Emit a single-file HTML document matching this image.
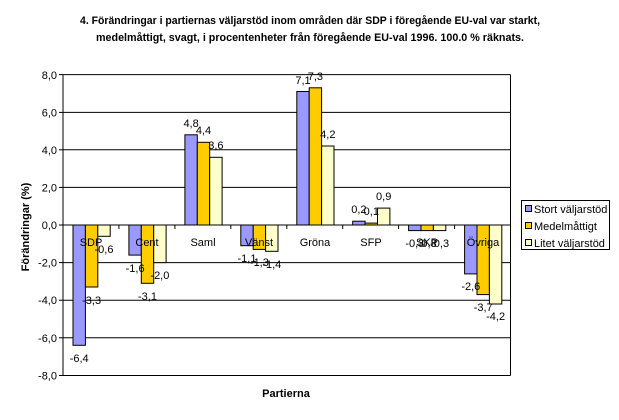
<!DOCTYPE html>
<html><head><meta charset="utf-8"><style>
html,body{margin:0;padding:0;background:#fff;}
svg{display:block;font-family:"Liberation Sans",Arial,sans-serif;}
</style></head><body>
<svg width="619" height="420" viewBox="0 0 619 420" xmlns="http://www.w3.org/2000/svg">
<rect width="619" height="420" fill="#fff"/>
<g font-weight="bold" font-size="11" text-anchor="middle">
<text x="310" y="24" textLength="460" lengthAdjust="spacingAndGlyphs">4. Förändringar i partiernas väljarstöd inom områden där SDP i föregående EU-val var starkt,</text>
<text x="310" y="41" textLength="428" lengthAdjust="spacingAndGlyphs">medelmåttigt, svagt, i procentenheter från föregående EU-val 1996. 100.0 % räknats.</text>
</g>
<g stroke="#000" stroke-width="1">
<line x1="63" y1="74.6" x2="510.5" y2="74.6"/>
<line x1="63" y1="112.4" x2="510.5" y2="112.4"/>
<line x1="63" y1="149.8" x2="510.5" y2="149.8"/>
<line x1="63" y1="187.4" x2="510.5" y2="187.4"/>
<line x1="63" y1="262.6" x2="510.5" y2="262.6"/>
<line x1="63" y1="300.2" x2="510.5" y2="300.2"/>
<line x1="63" y1="337.8" x2="510.5" y2="337.8"/>
<line x1="63" y1="375.5" x2="510.5" y2="375.5"/>
<line x1="63" y1="74.6" x2="63" y2="375.5"/>
<line x1="510.5" y1="74.6" x2="510.5" y2="375.5"/>
<line x1="59" y1="74.6" x2="63" y2="74.6"/><line x1="59" y1="112.4" x2="63" y2="112.4"/><line x1="59" y1="149.8" x2="63" y2="149.8"/><line x1="59" y1="187.4" x2="63" y2="187.4"/><line x1="59" y1="225" x2="63" y2="225"/><line x1="59" y1="262.6" x2="63" y2="262.6"/><line x1="59" y1="300.2" x2="63" y2="300.2"/><line x1="59" y1="337.8" x2="63" y2="337.8"/><line x1="59" y1="375.5" x2="63" y2="375.5"/>
</g>
<g stroke="#000" stroke-width="1">
<rect x="73" y="225" width="12.4" height="120.3" fill="#9999FF"/>
<rect x="85.4" y="225" width="12.4" height="62" fill="#FFCC00"/>
<rect x="97.8" y="225" width="12.4" height="11.3" fill="#FFFFCC"/>
<rect x="128.9" y="225" width="12.4" height="30.1" fill="#9999FF"/>
<rect x="141.3" y="225" width="12.4" height="58.3" fill="#FFCC00"/>
<rect x="153.7" y="225" width="12.4" height="37.6" fill="#FFFFCC"/>
<rect x="184.9" y="134.8" width="12.4" height="90.2" fill="#9999FF"/>
<rect x="197.3" y="142.3" width="12.4" height="82.7" fill="#FFCC00"/>
<rect x="209.7" y="157.3" width="12.4" height="67.7" fill="#FFFFCC"/>
<rect x="240.8" y="225" width="12.4" height="20.7" fill="#9999FF"/>
<rect x="253.2" y="225" width="12.4" height="24.4" fill="#FFCC00"/>
<rect x="265.6" y="225" width="12.4" height="26.3" fill="#FFFFCC"/>
<rect x="296.8" y="91.5" width="12.4" height="133.5" fill="#9999FF"/>
<rect x="309.2" y="87.8" width="12.4" height="137.2" fill="#FFCC00"/>
<rect x="321.6" y="146" width="12.4" height="79" fill="#FFFFCC"/>
<rect x="352.7" y="221.2" width="12.4" height="3.8" fill="#9999FF"/>
<rect x="365.1" y="223.1" width="12.4" height="1.9" fill="#FFCC00"/>
<rect x="377.5" y="208.1" width="12.4" height="16.9" fill="#FFFFCC"/>
<rect x="408.6" y="225" width="12.4" height="5.6" fill="#9999FF"/>
<rect x="421" y="225" width="12.4" height="5.6" fill="#FFCC00"/>
<rect x="433.4" y="225" width="12.4" height="5.6" fill="#FFFFCC"/>
<rect x="464.6" y="225" width="12.4" height="48.9" fill="#9999FF"/>
<rect x="477" y="225" width="12.4" height="69.6" fill="#FFCC00"/>
<rect x="489.4" y="225" width="12.4" height="79" fill="#FFFFCC"/>
</g>
<line x1="63" y1="225" x2="510.5" y2="225" stroke="#000"/>
<g stroke="#000">
<line x1="118.9" y1="225" x2="118.9" y2="229"/><line x1="174.9" y1="225" x2="174.9" y2="229"/><line x1="230.8" y1="225" x2="230.8" y2="229"/><line x1="286.8" y1="225" x2="286.8" y2="229"/><line x1="342.7" y1="225" x2="342.7" y2="229"/><line x1="398.6" y1="225" x2="398.6" y2="229"/><line x1="454.6" y1="225" x2="454.6" y2="229"/>
</g>
<g font-size="11" text-anchor="end">
<text x="57" y="79">8,0</text><text x="57" y="116.5">6,0</text><text x="57" y="154">4,0</text><text x="57" y="191.5">2,0</text><text x="57" y="229">0,0</text><text x="57" y="266.5">-2,0</text><text x="57" y="304">-4,0</text><text x="57" y="342">-6,0</text><text x="57" y="379.5">-8,0</text>
</g>
<g font-size="11" text-anchor="middle">
<text x="91" y="246">SDP</text><text x="147" y="246">Cent</text><text x="203" y="246">Saml</text><text x="259" y="246">Vänst</text><text x="315" y="246">Gröna</text><text x="371" y="246">SFP</text><text x="427" y="246">SKP</text><text x="483" y="246">Övriga</text>
</g>
<g font-size="11" text-anchor="middle">
<text x="79.2" y="362">-6,4</text><text x="91.6" y="304">-3,3</text><text x="104" y="253">-0,6</text>
<text x="135.1" y="272">-1,6</text><text x="147.5" y="300">-3,1</text><text x="159.9" y="279">-2,0</text>
<text x="191.1" y="127">4,8</text><text x="203.5" y="134">4,4</text><text x="215.9" y="149">3,6</text>
<text x="247" y="262">-1,1</text><text x="259.4" y="266">-1,3</text><text x="271.8" y="268">-1,4</text>
<text x="303" y="84">7,1</text><text x="315.4" y="80">7,3</text><text x="327.8" y="138">4,2</text>
<text x="358.9" y="213">0,2</text><text x="371.3" y="215">0,1</text><text x="383.7" y="200">0,9</text>
<text x="414.8" y="247">-0,3</text><text x="427.2" y="247">-0,3</text><text x="439.6" y="247">-0,3</text>
<text x="470.8" y="290">-2,6</text><text x="483.2" y="311">-3,7</text><text x="495.6" y="320">-4,2</text>
</g>
<text x="29" y="227" font-size="11" font-weight="bold" text-anchor="middle" transform="rotate(-90 29 227)">Förändringar (%)</text>
<text x="286" y="397" font-size="11" font-weight="bold" text-anchor="middle">Partierna</text>
<rect x="521.5" y="200.5" width="88" height="49" fill="#fff" stroke="#000"/>
<g stroke="#000">
<rect x="525.5" y="205.5" width="6" height="6" fill="#9999FF"/>
<rect x="525.5" y="222.5" width="6" height="6" fill="#FFCC00"/>
<rect x="525.5" y="239.5" width="6" height="6" fill="#FFFFCC"/>
</g>
<g font-size="11">
<text x="534" y="213">Stort väljarstöd</text>
<text x="534" y="230">Medelmåttigt</text>
<text x="534" y="247">Litet väljarstöd</text>
</g>
</svg>
</body></html>
